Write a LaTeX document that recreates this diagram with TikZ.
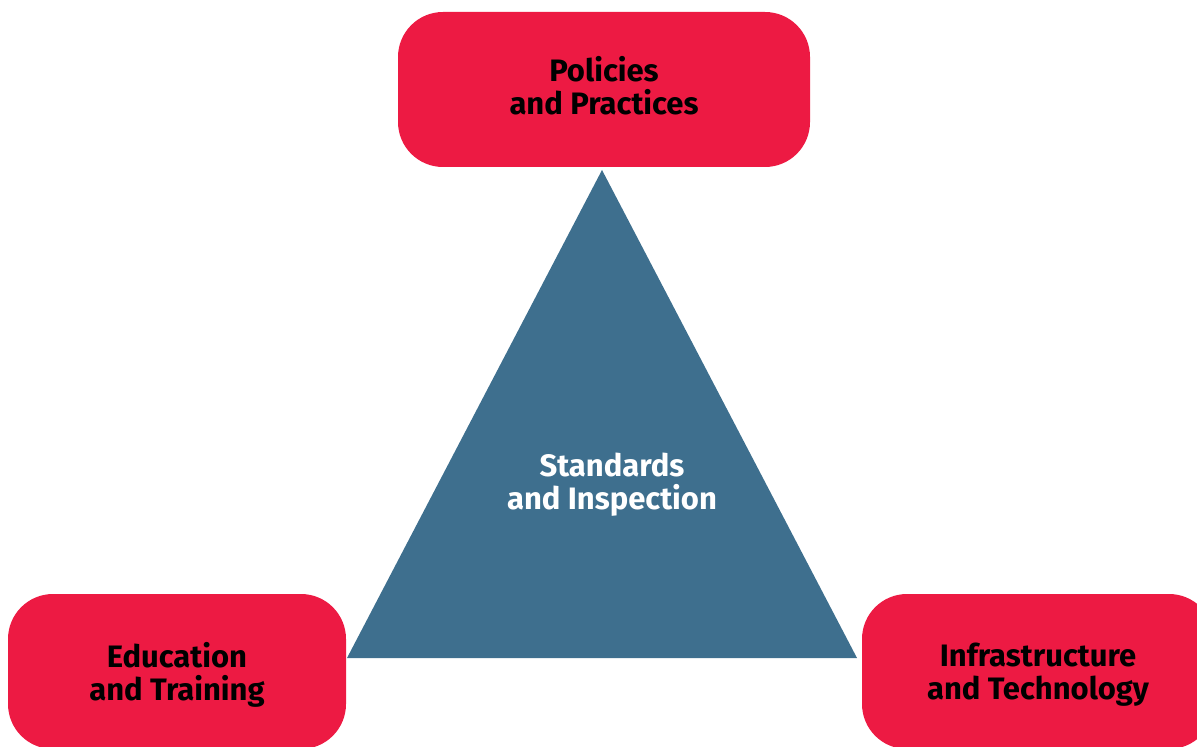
\documentclass[tikz,border=0pt]{standalone}
\usepackage{fontspec}
\setmainfont{Fira Sans}
\usetikzlibrary{positioning}
\definecolor{boxred}{HTML}{ED1A43}
\definecolor{triblue}{HTML}{3E6F8E}
\tikzset{
  pillar/.style={fill=boxred,rounded corners=22.5pt,minimum height=77.5pt,
    align=center,inner sep=0pt,text=black,
    font=\bfseries\fontsize{15.5}{16.5}\selectfont},
  core/.style={align=center,text=white,
    font=\bfseries\fontsize{15.5}{16.5}\selectfont}
}
\begin{document}
\begin{tikzpicture}[x=0.5pt,y=-0.5pt]
\useasboundingbox (0,0) rectangle (1197,747);
% triangle in the middle
\fill[triblue] (602,170) coordinate (apex) -- (857,658) coordinate (br)
  -- (347,658) coordinate (bl) -- cycle;
\draw (612,485) node[core] (std) {Standards\\and Inspection};
% the three boxes
\draw (604,89.5) node[pillar,minimum width=206pt,text depth=4pt] (pol) {Policies\\and Practices};
\draw (177,671.5) node[pillar,minimum width=169pt,text depth=0pt] (edu) {Education\\and Training};
\draw (1038,671.5) node[pillar,minimum width=176pt,text depth=0pt] (inf) {Infrastructure\\and Technology};
\end{tikzpicture}
\end{document}
